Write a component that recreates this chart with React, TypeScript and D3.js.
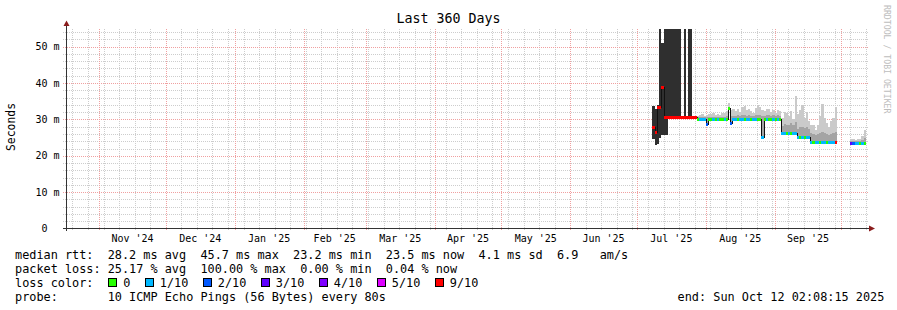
import React from "react";
import * as d3 from "d3";

// ---------- chart data ----------
const title = "Last 360 Days";
const yAxisLabel = "Seconds";
const graphStart = "2024-10-17T02:08:15Z";
const graphEnd = "2025-10-12T02:08:15Z";
const firstSampleDay = "2025-07-08T00:00:00Z";
const yMax = 55; // ms
const yMajorTicks = [0, 10, 20, 30, 40, 50];

// daily median rtt (ms), from Jul 8 2025
const median: (number | null)[] = [
  28.0, 26.5, 33.3, 33.3, 39.0, 30.7, 30.7, 30.7, 30.7, 30.7,
  30.7, 30.7, 30.7, 30.7, 30.7, 30.7, 30.7, 30.7, 30.7, 30.7,
  30.2, 30.2, 30.2, 30.2, 28.8, 30.2, 30.2, 30.2, 30.2, 30.2,
  30.2, 30.2, 30.2, 30.2, 33.2, 29.0, 30.2, 30.2, 30.2, 30.2,
  30.2, 30.2, 30.2, 30.2, 30.2, 30.2, 30.2, 30.2, 30.2, 25.3,
  30.2, 30.2, 30.2, 30.2, 30.2, 30.2, 30.2, 30.2, 26.3, 26.3,
  26.3, 26.3, 26.3, 26.3, 26.3, 25.3, 25.3, 25.3, 25.3, 25.3,
  25.3, 23.8, 23.8, 23.8, 23.8, 23.8, 23.8, 23.8, 23.8, 23.8,
  23.8, 23.8, 23.8, null, null, null, null, null, null, 23.4,
  23.4, 23.4, 23.4, 23.4, 23.4, 23.4,
];

// lost pings out of 10
const loss: (number | null)[] = [
  9, 9, 9, 9, 9, 9, 9, 9, 9, 9,
  9, 9, 9, 9, 9, 9, 9, 9, 9, 9,
  0, 1, 1, 1, 2, 0, 0, 1, 0, 1,
  0, 0, 1, 0, 0, 2, 1, 1, 0, 1,
  1, 0, 1, 1, 0, 1, 1, 0, 0, 1,
  0, 1, 0, 0, 1, 0, 1, 0, 1, 1,
  0, 1, 0, 1, 1, 1, 0, 1, 0, 1,
  1, 1, 0, 1, 1, 0, 1, 1, 0, 1,
  1, 1, 9, null, null, null, null, null, null, 3,
  2, 1, 1, 0, 1, 0,
];

// smoke: upper edge of the inner (darker) band, ms
const smokeMid: (number | null)[] = [
  null, null, null, null, null, null, null, null, null, null,
  null, null, null, null, null, null, null, null, null, null,
  30.6, 30.6, 30.7, 30.6, 30.6, 30.7, 30.7, 30.8, 30.7, 30.7,
  30.7, 30.8, 30.8, 30.9, 33.5, 31.0, 31.0, 31.0, 31.1, 31.0,
  31.2, 31.2, 31.0, 31.1, 31.0, 30.9, 31.1, 31.2, 31.2, 31.0,
  31.0, 31.2, 31.2, 31.0, 31.1, 31.0, 31.2, 31.0, 28.3, 28.8,
  28.5, 28.6, 29.0, 28.5, 29.2, 27.5, 27.8, 28.0, 27.6, 27.8,
  27.3, 26.2, 26.0, 25.8, 26.0, 26.3, 26.5, 26.2, 26.0, 25.8,
  26.0, 26.2, 26.5, null, null, null, null, null, null, 24.0,
  24.0, 24.0, 24.0, 24.1, 24.4, 25.0,
];

// smoke: upper edge of the outer (light) band, ms
const smokeHi: (number | null)[] = [
  null, null, null, null, null, null, null, null, null, null,
  null, null, null, null, null, null, null, null, null, null,
  31.0, 31.2, 31.5, 31.0, 31.3, 31.6, 31.4, 31.8, 31.2, 31.5,
  31.3, 31.7, 31.9, 32.3, 34.5, 32.5, 32.8, 32.2, 33.0, 32.0,
  33.5, 33.8, 32.6, 33.0, 32.2, 31.8, 33.2, 34.0, 33.5, 32.5,
  32.3, 33.0, 32.8, 32.0, 32.5, 31.8, 32.6, 32.2, 30.5, 32.0,
  31.8, 31.0, 32.3, 30.0, 36.5, 31.5, 32.5, 33.9, 30.5, 32.0,
  29.5, 28.5, 28.5, 27.0, 28.5, 31.0, 34.3, 30.5, 29.0, 28.0,
  29.5, 30.5, 33.4, null, null, null, null, null, null, 24.5,
  24.6, 24.4, 24.5, 24.6, 25.5, 27.0,
];

// dense (high-loss) smoke of the first 20 days, ms
const darkLo: (number | null)[] = [
  24.5, 22.9, 23.3, 25.0, 25.6, 25.6, 25.6, 30.7, 30.7, 30.7,
  30.7, 30.7, 30.7, null, 30.7, null, 30.7, 30.7, null, null,
];
const darkHi: (number | null)[] = [
  33.8, 33.0, 34.0, 55, 51, 55, 55, 55, 55, 55,
  55, 55, 55, null, 55, null, 55, 55, null, null,
];

const legendRtt = "median rtt:  28.2 ms avg  45.7 ms max  23.2 ms min  23.5 ms now  4.1 ms sd  6.9   am/s";
const legendLoss = "packet loss: 25.17 % avg  100.00 % max  0.00 % min  0.04 % now";
const legendLossColorTitle = "loss color:";
const lossLabels = ["0", "1/10", "2/10", "3/10", "4/10", "5/10", "9/10"];
const lossColors = ["#26ff00", "#00b8ff", "#0059ff", "#5e00ff", "#7e00ff", "#dd00ff", "#ff0000"];
const probeText = "probe:       10 ICMP Echo Pings (56 Bytes) every 80s";
const endText = "end: Sun Oct 12 02:08:15 2025";
const watermark = "RRDTOOL / TOBI OETIKER";

// ---------- rendering ----------
const MONO = "'DejaVu Sans Mono', monospace";
const PRE: React.CSSProperties = { whiteSpace: "pre" };

function lossColor(l: number): string {
  if (l <= 4) return lossColors[l];
  if (l <= 8) return lossColors[5];
  return lossColors[6];
}

function T(props: any) {
  const { children, ...rest } = props;
  return (
    <text xmlSpace="preserve" style={PRE} {...rest}>
      {children}
    </text>
  );
}

export default function App() {
  const W = 897;
  const H = 310;
  const left = 66;
  const right = 866;
  const bottom = 228.5;
  const top = 28.5;

  const t0 = new Date(graphStart);
  const t1 = new Date(graphEnd);
  const x = d3.scaleUtc().domain([t0, t1]).range([left, right]);
  const y = d3.scaleLinear().domain([0, yMax]).range([bottom, top]);

  const day0 = new Date(firstSampleDay);
  const days = median.map((_, i) => d3.utcDay.offset(day0, i));
  const xs = (i: number) => Math.round(x(days[i]));
  const xe = (i: number) => Math.round(x(d3.utcDay.offset(days[i], 1)));

  const crisp = (v: number) => Math.round(v) + 0.5;

  // grid
  const weekLines = d3.utcSunday.range(t0, t1).map((d) => crisp(x(d)));
  const monthStarts = d3.utcMonth.range(t0, t1);
  const monthLines = monthStarts.map((d) => crisp(x(d)));
  const minorY = d3.range(2, yMax, 2).filter((v) => v % 10 !== 0);
  const majorY = yMajorTicks.filter((v) => v > 0);

  const monthFmt = d3.utcFormat("%b '%y");
  const monthLabels = d3.utcMonth
    .range(d3.utcMonth.floor(t0), t1)
    .map((m) => {
      const next = d3.utcMonth.offset(m, 1);
      const cx = (x(m) + x(next)) / 2;
      return { cx, text: monthFmt(m) };
    })
    .filter((d) => d.cx > left && d.cx < right);

  // median step path
  let path = "";
  for (let i = 0; i < median.length; i++) {
    const m = median[i];
    if (m == null) continue;
    const yy = crisp(y(m));
    const prev = i > 0 ? median[i - 1] : null;
    if (prev == null) path += `M${xs(i)},${yy}`;
    else path += `V${yy}`;
    path += `H${xe(i)}`;
  }

  // legend boxes
  const cw = 11.85 * 0.602;
  const legX = 15;
  const boxes: { bx: number; lx: number; color: string; label: string }[] = [];
  let bx = 108.2;
  lossLabels.forEach((lab, k) => {
    const lx = bx + 15;
    boxes.push({ bx, lx, color: lossColors[k], label: lab });
    bx = lx + (lab.length + 2) * cw + 0.2;
  });

  const minorStroke = "#cdcdcd";
  const majorStroke = "#f0a0a0";

  return (
    <svg
      width={W}
      height={H}
      viewBox={`0 0 ${W} ${H}`}
      style={{ position: "absolute", left: 0, top: 0, background: "#fff" }}
      fontFamily={MONO}
    >
      <rect x={0} y={0} width={W} height={H} fill="#ffffff" />

      {/* grid */}
      <g shapeRendering="crispEdges" strokeWidth={1} strokeDasharray="1,1">
        {minorY.map((v) => (
          <line key={"hy" + v} x1={63} x2={869} y1={crisp(y(v))} y2={crisp(y(v))} stroke={minorStroke} />
        ))}
        {weekLines.map((xx, k) => (
          <line key={"wx" + k} x1={xx} x2={xx} y1={top} y2={231} stroke={minorStroke} />
        ))}
        {majorY.map((v) => (
          <line key={"my" + v} x1={63} x2={869} y1={crisp(y(v))} y2={crisp(y(v))} stroke={majorStroke} />
        ))}
        {monthLines.map((xx, k) => (
          <line key={"mx" + k} x1={xx} x2={xx} y1={top} y2={231} stroke={majorStroke} />
        ))}
      </g>

      {/* smoke */}
      <g shapeRendering="crispEdges">
        {median.map((m, i) => {
          const hi = smokeHi[i];
          const mid = smokeMid[i];
          if (m == null || hi == null || mid == null) return null;
          return (
            <g key={"s" + i}>
              <rect x={xs(i)} width={xe(i) - xs(i)} y={y(hi)} height={Math.max(0, y(mid) - y(hi))} fill="#cacaca" />
              <rect x={xs(i)} width={xe(i) - xs(i)} y={y(mid)} height={Math.max(0, y(m) - y(mid))} fill="#a4a4a4" />
            </g>
          );
        })}
        {darkLo.map((lo, i) => {
          const hi = darkHi[i];
          if (lo == null || hi == null) return null;
          return (
            <rect
              key={"d" + i}
              x={xs(i)}
              width={xe(i) - xs(i)}
              y={y(Math.min(hi, yMax))}
              height={y(lo) - y(Math.min(hi, yMax))}
              fill="#2f2f2f"
            />
          );
        })}
      </g>

      {/* median */}
      <path d={path} fill="none" stroke="#111" strokeWidth={1} shapeRendering="crispEdges" />
      <g shapeRendering="crispEdges">
        {median.map((m, i) => {
          const l = loss[i];
          if (m == null || l == null) return null;
          return (
            <rect
              key={"m" + i}
              x={xs(i)}
              width={xe(i) - xs(i)}
              y={Math.round(y(m)) - 1}
              height={3}
              fill={lossColor(l)}
            />
          );
        })}
      </g>

      {/* axes */}
      <g shapeRendering="crispEdges" stroke="#333" strokeWidth={1}>
        <line x1={63} x2={869} y1={bottom} y2={bottom} />
        <line x1={left + 0.5} x2={left + 0.5} y1={231} y2={24} />
      </g>
      <polygon points={`63.5,26 69.5,26 66.5,20.5`} fill="#8a1c1c" />
      <polygon points={`869,225.5 869,231.5 875,228.5`} fill="#8a1c1c" />

      {/* y tick labels */}
      {yMajorTicks.map((v) => (
        <T key={"yl" + v} x={35.4} y={y(v) + 3.6} fontSize={10} fill="#000">
          {v === 0 ? " 0" : `${v} m`}
        </T>
      ))}

      {/* x labels */}
      {monthLabels.map((d, k) => (
        <T key={"xl" + k} x={d.cx} y={241.5} fontSize={10} textAnchor="middle" fill="#000">
          {d.text}
        </T>
      ))}

      {/* title & axis label */}
      <T x={448.5} y={23} fontSize={13.3} textAnchor="middle" fill="#000">
        {title}
      </T>
      <T transform="translate(15,127) rotate(-90)" fontSize={11.4} textAnchor="middle" fill="#000">
        {yAxisLabel}
      </T>
      <T transform="translate(884,5) rotate(90)" fontSize={8.2} fill="#bdbdbd">
        {watermark}
      </T>

      {/* legend */}
      <g fontSize={11.85} fill="#000">
        <T x={legX} y={258.8}>{legendRtt}</T>
        <T x={legX} y={272.7}>{legendLoss}</T>
        <T x={legX} y={286.6}>{legendLossColorTitle}</T>
        {boxes.map((b, k) => (
          <g key={"lb" + k}>
            <rect x={Math.round(b.bx) + 0.5} y={278.5} width={8} height={8} fill={b.color} stroke="#000" strokeWidth={1} shapeRendering="crispEdges" />
            <T x={b.lx} y={286.6}>{b.label}</T>
          </g>
        ))}
        <T x={legX} y={300.5}>{probeText}</T>
        <T x={677.6} y={300.5}>{endText}</T>
      </g>
    </svg>
  );
}
